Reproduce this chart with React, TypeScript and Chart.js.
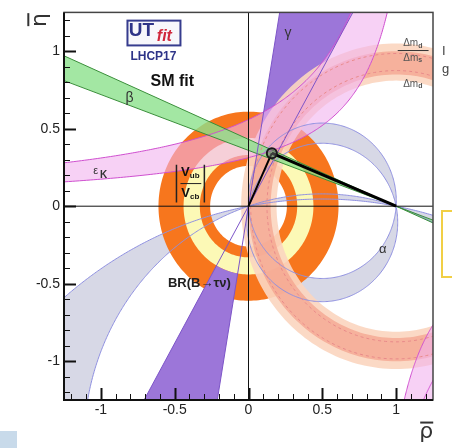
import React, { useEffect, useRef } from 'react';
import { Chart, registerables } from 'chart.js';

Chart.register(...registerables);

// ---------------- axes ----------------
const axisRange = [-1.25, 1.25];
const xTickValues = [-1, -0.5, 0, 0.5, 1];
const yTickValues = [-1, -0.5, 0, 0.5, 1];
const minorTickStep = 0.1;

// ---------------- constraints ----------------
const apexPoint = [0.158, 0.342];            // (rho, eta) of the fitted apex
const triangleBase = [[0, 0], [1, 0]];
const btnRadii = [0.26, 0.61];               // BR(B->tau nu) annulus around origin
const vubRadii = [0.33, 0.44];               // |Vub/Vcb| annulus around origin
const gammaAnglesDeg = [60.5, 80.4];         // gamma wedge edges
const gammaMinRadius = [0.44];
const betaEdgesAtLeft = [0.97, 0.81];        // eta at rho=-1.25 of beta lines through (1,0)
const epsKUpper = [[0.701, 1.2546], [0.393, 1.2546]]; // [k, c]: eta = k/(c-rho)
const epsKLower = [[0.386, 0.746], [0.72, 0.609]];    // [k, c]: eta = -k/(rho-c)
const dmdRadii = [0.81, 1.05];               // Delta m_d, centred on (1,0)
const dmsRadii = [0.85, 1.0];                // Delta m_s / Delta m_d
const dmsDashedRadii = [0.875, 0.985];
const alphaSmallCentreEta = [0.035, -0.105]; // circles through (0,0) and (1,0)
const alphaLargeCentreEta = [-2.678, -1.536];

// ---------------- geometry helpers ----------------
type Pt = { x: number; y: number };
const TAU = Math.PI * 2;
const arc = (cx: number, cy: number, r: number, a0: number, a1: number, n = 160): Pt[] => {
  const out: Pt[] = [];
  for (let i = 0; i <= n; i++) {
    const a = a0 + ((a1 - a0) * i) / n;
    out.push({ x: cx + r * Math.cos(a), y: cy + r * Math.sin(a) });
  }
  return out;
};
const annulus = (cx: number, cy: number, r0: number, r1: number): Pt[] => [
  ...arc(cx, cy, r1, 0, TAU, 220),
  ...arc(cx, cy, r0, TAU, 0, 220),
];
const chordCircle = (k: number) => {
  const r = Math.hypot(0.5, k);
  const t1 = Math.atan2(-k, 0.5);
  let t0 = Math.atan2(-k, -0.5);
  if (t0 < t1) t0 += TAU;
  return { k, r, t0, t1 };
};
type CC = ReturnType<typeof chordCircle>;
const upperArc = (c: CC, n = 160) => arc(0.5, c.k, c.r, c.t1, c.t0, n);
const lowerArc = (c: CC, n = 160) => arc(0.5, c.k, c.r, c.t0, c.t1 + TAU, n);
const fullCircle = (c: CC, n = 400) => arc(0.5, c.k, c.r, 0, TAU, n);

const hyperUp = (k: number, c: number, n = 240): Pt[] => {
  const eMin = k / (c + 1.6);
  const eMax = 1.6;
  const out: Pt[] = [];
  for (let i = 0; i <= n; i++) {
    const e = eMin * Math.pow(eMax / eMin, i / n);
    out.push({ x: c - k / e, y: e });
  }
  return out;
};
const hyperDown = (k: number, c: number, n = 200): Pt[] => {
  const eMax = 1.6;
  const eMin = k / (1.6 - c);
  const out: Pt[] = [];
  for (let i = 0; i <= n; i++) {
    const e = eMax * Math.pow(eMin / eMax, i / n);
    out.push({ x: c + k / e, y: -e });
  }
  return out;
};
const sector = (a0d: number, a1d: number, rMin: number, rMax: number): Pt[] => {
  const a0 = (a0d * Math.PI) / 180;
  const a1 = (a1d * Math.PI) / 180;
  return [...arc(0, 0, rMax, a0, a1, 40), ...arc(0, 0, rMin, a1, a0, 40)];
};
const ray = (deg: number): Pt[] => {
  const a = (deg * Math.PI) / 180;
  return [
    { x: -2 * Math.cos(a), y: -2 * Math.sin(a) },
    { x: 2 * Math.cos(a), y: 2 * Math.sin(a) },
  ];
};

// ---------------- build shapes ----------------
const aP = chordCircle(alphaSmallCentreEta[0]);
const aQ = chordCircle(alphaSmallCentreEta[1]);
const aA = chordCircle(alphaLargeCentreEta[0]);
const aB = chordCircle(alphaLargeCentreEta[1]);

const betaSlopes = betaEdgesAtLeft.map((e) => e / (axisRange[0] - 1));
const betaLine = (s: number): Pt[] => [
  { x: -1.6, y: s * (-1.6 - 1) },
  { x: 1.6, y: s * (1.6 - 1) },
];

const FILL = (data: Pt[], color: string) => ({
  data,
  fill: 'shape',
  backgroundColor: color,
  borderColor: 'rgba(0,0,0,0)',
  borderWidth: 0,
  pointRadius: 0,
  borderDash: [1000, 0],
  clip: 0,
});
const LINE = (data: Pt[], color: string, width = 1, dash: number[] = [1000, 0]) => ({
  data,
  fill: false,
  backgroundColor: color,
  borderColor: color,
  borderWidth: width,
  pointRadius: 0,
  borderDash: dash,
  clip: 0,
});

const ALPHA_EDGE = '#8f90e0';
const EPS_EDGE = '#cf4fcf';

const layersBottomToTop: any[] = [
  // alpha
  FILL([...lowerArc(aA, 700), ...lowerArc(aB, 700).reverse()], '#d7d8e6'),
  FILL([...upperArc(aB, 120), ...upperArc(aA, 120).reverse()], '#d7d8e6'),
  FILL([...upperArc(aP), ...upperArc(aQ).reverse()], '#d7d8e6'),
  FILL([...lowerArc(aQ), ...lowerArc(aP).reverse()], '#d7d8e6'),
  // rings
  FILL(annulus(0, 0, btnRadii[0], btnRadii[1]), '#f7761d'),
  FILL(annulus(0, 0, vubRadii[0], vubRadii[1]), '#fcf9b6'),
  // gamma
  FILL(sector(gammaAnglesDeg[0], gammaAnglesDeg[1], gammaMinRadius[0], 2.2), '#9c76d9'),
  FILL(sector(gammaAnglesDeg[0] + 180, gammaAnglesDeg[1] + 180, gammaMinRadius[0], 2.2), '#9c76d9'),
  // delta m
  FILL(annulus(1, 0, dmdRadii[0], dmdRadii[1]), 'rgba(251,214,192,0.92)'),
  FILL(annulus(1, 0, dmsRadii[0], dmsRadii[1]), 'rgba(244,160,138,0.7)'),
  // eps K
  FILL([...hyperUp(epsKUpper[0][0], epsKUpper[0][1]), ...hyperUp(epsKUpper[1][0], epsKUpper[1][1]).reverse()], 'rgba(242,178,238,0.6)'),
  FILL([...hyperDown(epsKLower[0][0], epsKLower[0][1]), { x: 1.6, y: -1.6 }], 'rgba(242,178,238,0.6)'),
  // beta
  FILL([...betaLine(betaSlopes[0]), ...betaLine(betaSlopes[1]).reverse()], 'rgba(140,225,140,0.8)'),
  // edges
  LINE(fullCircle(aP), ALPHA_EDGE),
  LINE(fullCircle(aQ), ALPHA_EDGE),
  LINE(fullCircle(aA, 1400), ALPHA_EDGE),
  LINE(fullCircle(aB, 1000), ALPHA_EDGE),
  LINE(arc(1, 0, dmsDashedRadii[0], 0, TAU, 300), '#e88a8a', 1, [3, 3]),
  LINE(arc(1, 0, dmsDashedRadii[1], 0, TAU, 300), '#e88a8a', 1, [3, 3]),
  LINE(hyperUp(epsKUpper[0][0], epsKUpper[0][1]), EPS_EDGE),
  LINE(hyperUp(epsKUpper[1][0], epsKUpper[1][1]), EPS_EDGE),
  LINE(hyperDown(epsKLower[0][0], epsKLower[0][1]), EPS_EDGE),
  LINE(hyperDown(epsKLower[1][0], epsKLower[1][1]), EPS_EDGE),
  LINE(betaLine(betaSlopes[0]), '#3b8f3b'),
  LINE(betaLine(betaSlopes[1]), '#3b8f3b'),
  LINE(ray(gammaAnglesDeg[0]), '#7d55c8'),
  LINE(ray(gammaAnglesDeg[1]), '#7d55c8'),
  // zero axes
  LINE([{ x: axisRange[0], y: 0 }, { x: axisRange[1], y: 0 }], '#111', 1),
  LINE([{ x: 0, y: axisRange[0] }, { x: 0, y: axisRange[1] }], '#111', 1),
  // triangle
  LINE([{ x: triangleBase[0][0], y: triangleBase[0][1] }, { x: apexPoint[0], y: apexPoint[1] }], '#000', 2),
  LINE([{ x: apexPoint[0], y: apexPoint[1] }, { x: triangleBase[1][0], y: triangleBase[1][1] }], '#000', 3),
  {
    data: [{ x: apexPoint[0], y: apexPoint[1] }],
    showLine: false,
    pointRadius: 5,
    pointBorderWidth: 2,
    pointBorderColor: '#1a1a1a',
    pointBackgroundColor: 'rgba(110,110,110,0.55)',
    clip: 0,
  },
];

const FONT = "'Liberation Sans', Arial, sans-serif";

const overlayPlugin = {
  id: 'utOverlay',
  afterDatasetsDraw(chart: any) {
    const { ctx, chartArea: a, scales } = chart;
    const sx = scales.x;
    const sy = scales.y;
    const X = (v: number) => sx.getPixelForValue(v);
    const Y = (v: number) => sy.getPixelForValue(v);
    ctx.save();

    // inside ticks
    ctx.strokeStyle = '#111';
    const nT = Math.round(axisRange[1] / minorTickStep);
    for (let i = -nT + 1; i <= nT - 1; i++) {
      const v = i * minorTickStep;
      const major = i % 5 === 0;
      ctx.lineWidth = major ? 2 : 1;
      const px = Math.round(X(v)) + 0.5;
      ctx.beginPath();
      ctx.moveTo(px, a.bottom);
      ctx.lineTo(px, a.bottom - (major ? 12 : 6));
      ctx.stroke();
      const py = Math.round(Y(v)) + 0.5;
      ctx.beginPath();
      ctx.moveTo(a.left, py);
      ctx.lineTo(a.left + (major ? 12 : 6), py);
      ctx.stroke();
    }
    // frame
    ctx.strokeStyle = '#444';
    ctx.lineWidth = 1.5;
    ctx.strokeRect(a.left, a.top, a.right - a.left, a.bottom - a.top);
    ctx.strokeStyle = '#111';
    ctx.lineWidth = 2;
    ctx.beginPath();
    ctx.moveTo(a.left, a.top);
    ctx.lineTo(a.left, a.bottom);
    ctx.lineTo(a.right, a.bottom);
    ctx.stroke();

    const txt = (s: string, px: number, py: number, font: string, color = '#222', align = 'center') => {
      ctx.font = font;
      ctx.fillStyle = color;
      ctx.textAlign = align;
      ctx.textBaseline = 'middle';
      ctx.fillText(s, px, py);
    };
    const subText = (b: string, s: string, cx: number, cy: number, f1: string, f2: string, color: string, dy: number) => {
      ctx.font = f1;
      const w1 = ctx.measureText(b).width;
      ctx.font = f2;
      const w2 = ctx.measureText(s).width;
      const x0 = cx - (w1 + w2) / 2;
      txt(b, x0, cy, f1, color, 'left');
      txt(s, x0 + w1, cy + dy, f2, color, 'left');
    };

    // logo
    const lx0 = X(-0.82), lx1 = X(-0.461), ly0 = Y(1.197), ly1 = Y(1.037);
    ctx.fillStyle = '#f7f7fb';
    ctx.fillRect(lx0, ly0, lx1 - lx0, ly1 - ly0);
    ctx.strokeStyle = '#363c8e';
    ctx.lineWidth = 2;
    ctx.strokeRect(lx0, ly0, lx1 - lx0, ly1 - ly0);
    txt('UT', X(-0.725), Y(1.133), `bold 19px ${FONT}`, '#2e3488');
    txt('fit', X(-0.57), Y(1.094), `italic bold 16px ${FONT}`, '#d0283c');
    txt('LHCP17', X(-0.644), Y(0.966), `bold 12px ${FONT}`, '#2e3488');
    txt('SM fit', X(-0.516), Y(0.806), `bold 16px ${FONT}`, '#111');

    // band labels
    txt('β', X(-0.806), Y(0.697), `14px ${FONT}`, '#333');
    txt('ε', X(-1.036), Y(0.229), `11px ${FONT}`, '#333');
    txt('K', X(-0.982), Y(0.197), `bold 10px ${FONT}`, '#333');
    txt('γ', X(0.268), Y(1.113), `14px ${FONT}`, '#333');
    txt('α', X(0.91), Y(-0.278), `13px ${FONT}`, '#333');

    // delta m labels
    const dmCol = '#555';
    subText('Δm', 'd', X(1.113), Y(1.049), `10px ${FONT}`, `bold 7px ${FONT}`, dmCol, 2);
    ctx.strokeStyle = '#333';
    ctx.lineWidth = 1;
    ctx.beginPath();
    ctx.moveTo(X(1.011), Y(1.004));
    ctx.lineTo(X(1.22), Y(1.004));
    ctx.stroke();
    subText('Δm', 's', X(1.113), Y(0.953), `10px ${FONT}`, `bold 7px ${FONT}`, dmCol, 2);
    subText('Δm', 'd', X(1.113), Y(0.787), `10px ${FONT}`, `bold 7px ${FONT}`, dmCol, 2);

    // |Vub/Vcb|
    ctx.strokeStyle = '#222';
    ctx.lineWidth = 1.5;
    ctx.beginPath();
    ctx.moveTo(X(-0.488), Y(0.267));
    ctx.lineTo(X(-0.488), Y(0.024));
    ctx.moveTo(X(-0.299), Y(0.267));
    ctx.lineTo(X(-0.299), Y(0.024));
    ctx.stroke();
    ctx.lineWidth = 1;
    ctx.beginPath();
    ctx.moveTo(X(-0.461), Y(0.146));
    ctx.lineTo(X(-0.32), Y(0.146));
    ctx.stroke();
    subText('V', 'ub', X(-0.394), Y(0.216), `bold 13px ${FONT}`, `bold 8px ${FONT}`, '#111', 3);
    subText('V', 'cb', X(-0.394), Y(0.081), `bold 13px ${FONT}`, `bold 8px ${FONT}`, '#111', 3);

    txt('BR(B→τν)', X(-0.333), Y(-0.496), `bold 13px ${FONT}`, '#222');

    // axis titles
    ctx.save();
    ctx.translate(X(-1.424), Y(1.2));
    ctx.rotate(-Math.PI / 2);
    txt('η', 0, 2, `22px 'DejaVu Sans', sans-serif`, '#333');
    ctx.fillStyle = '#333';
    ctx.fillRect(-6, -11, 13, 2);
    ctx.restore();
    txt('ρ', X(1.204), Y(-1.46), `22px 'DejaVu Sans', sans-serif`, '#333');
    ctx.fillStyle = '#333';
    ctx.fillRect(X(1.204) - 6, Y(-1.46) - 11, 13, 2);

    ctx.restore();
  },
};

export default function App() {
  const ref = useRef<HTMLCanvasElement>(null);
  useEffect(() => {
    const canvas = ref.current;
    if (!canvas) return;
    const tickFont = { family: FONT, size: 14 };
    const chart = new Chart(canvas, {
      type: 'line',
      data: { datasets: [...layersBottomToTop].reverse() },
      options: {
        responsive: false,
        maintainAspectRatio: false,
        animation: false,
        events: [],
        layout: { padding: { left: 0, right: 19, top: 12, bottom: 0 } },
        plugins: { legend: { display: false }, tooltip: { enabled: false } },
        elements: { line: { tension: 0, capBezierPoints: false }, point: { radius: 0 } },
        scales: {
          x: {
            type: 'linear',
            min: axisRange[0],
            max: axisRange[1],
            grid: { display: false, drawTicks: false },
            border: { display: false },
            afterBuildTicks: (s: any) => {
              s.ticks = xTickValues.map((v) => ({ value: v }));
            },
            afterFit: (s: any) => {
              s.height = 48;
            },
            ticks: { padding: 2, font: tickFont, color: '#222', callback: (v: any) => String(v), maxRotation: 0, autoSkip: false },
          },
          y: {
            type: 'linear',
            min: axisRange[0],
            max: axisRange[1],
            grid: { display: false, drawTicks: false },
            border: { display: false },
            afterBuildTicks: (s: any) => {
              s.ticks = yTickValues.map((v) => ({ value: v }));
            },
            afterFit: (s: any) => {
              s.width = 64;
            },
            ticks: { padding: 4, font: tickFont, color: '#222', callback: (v: any) => String(v), autoSkip: false },
          },
        },
      } as any,
      plugins: [overlayPlugin as any],
    });
    return () => chart.destroy();
  }, []);

  return (
    <div style={{ position: 'fixed', left: 0, top: 0, width: 452, height: 448, overflow: 'hidden', background: '#fff' }}>
      <canvas ref={ref} width={452} height={448} style={{ display: 'block', width: 452, height: 448 }} />
      <div style={{ position: 'absolute', left: 441, top: 210, width: 30, height: 68, border: '2px solid #f1cf45', boxSizing: 'border-box' }} />
      <div style={{ position: 'absolute', left: 0, top: 431, width: 17, height: 17, background: '#c8daea' }} />
      <span style={{ position: 'absolute', left: 442, top: 43, font: `13px ${FONT}`, color: '#444' }}>I</span>
      <span style={{ position: 'absolute', left: 442, top: 61, font: `13px ${FONT}`, color: '#444' }}>g</span>
    </div>
  );
}
